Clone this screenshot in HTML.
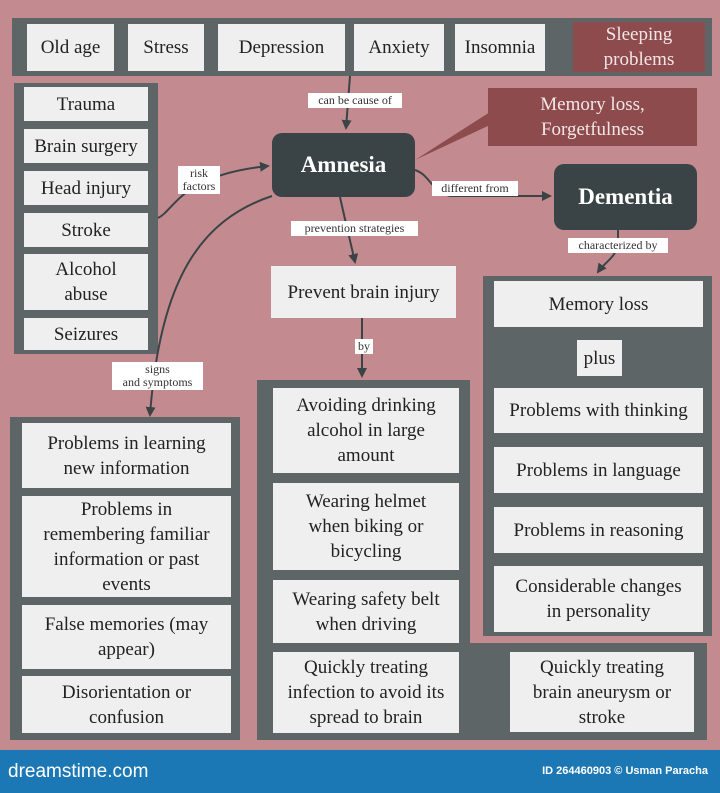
<!DOCTYPE html>
<html><head><meta charset="utf-8"><style>
*{margin:0;padding:0;box-sizing:border-box}
body{width:720px;height:793px;background:#c38b8f;position:relative;overflow:hidden;font-family:"Liberation Serif",serif;color:#222}
.p{position:absolute;background:#5e6567}
.b{position:absolute;background:#efefef;display:flex;align-items:center;justify-content:center;text-align:center;font-size:19px;line-height:25px}
.m{position:absolute;background:#8e4b4d;color:#f2e6e6;display:flex;align-items:center;justify-content:center;text-align:center;font-size:19px;line-height:25px}
.d{position:absolute;background:#3a4447;color:#fff;border-radius:10px;display:flex;align-items:center;justify-content:center;font-size:23px;font-weight:bold}
.l{position:absolute;background:#fff;font-size:12px;line-height:13px;text-align:center;color:#333;padding:1px 1px}
svg{position:absolute;left:0;top:0}
</style></head><body>
<div class="p" style="left:12px;top:18px;width:700px;height:58px"></div>
<div class="b" style="left:27px;top:24px;width:87px;height:47px">Old age</div>
<div class="b" style="left:128px;top:24px;width:76px;height:47px">Stress</div>
<div class="b" style="left:218px;top:24px;width:127px;height:47px">Depression</div>
<div class="b" style="left:354px;top:24px;width:90px;height:47px">Anxiety</div>
<div class="b" style="left:455px;top:24px;width:90px;height:47px">Insomnia</div>
<div class="m" style="left:573px;top:22px;width:132px;height:50px">Sleeping<br>problems</div>

<div class="p" style="left:14px;top:83px;width:144px;height:271px"></div>
<div class="b" style="left:24px;top:87px;width:124px;height:34px">Trauma</div>
<div class="b" style="left:24px;top:129px;width:124px;height:34px">Brain surgery</div>
<div class="b" style="left:24px;top:171px;width:124px;height:34px">Head injury</div>
<div class="b" style="left:24px;top:213px;width:124px;height:34px">Stroke</div>
<div class="b" style="left:24px;top:254px;width:124px;height:56px">Alcohol<br>abuse</div>
<div class="b" style="left:24px;top:318px;width:124px;height:32px">Seizures</div>

<svg width="720" height="793">
<defs><marker id="a" markerWidth="10" markerHeight="10" refX="8" refY="5" orient="auto" markerUnits="userSpaceOnUse"><path d="M0,0L10,5L0,10z" fill="#3a4447"/></marker></defs>
<g stroke="#3a4447" stroke-width="2" fill="none">
<path d="M350,76 L346,128" marker-end="url(#a)"/>
<path d="M158,218 C175,210 180,175 268,166" marker-end="url(#a)"/>
<path d="M415,170 C430,175 430,190 450,196 L550,196" marker-end="url(#a)"/>
<path d="M340,197 C345,220 350,240 355,262" marker-end="url(#a)"/>
<path d="M362,318 L362,376" marker-end="url(#a)"/>
<path d="M618,230 L618,245 C615,258 605,262 598,272" marker-end="url(#a)"/>
<path d="M272,196 C200,220 160,280 150,415" marker-end="url(#a)"/>
</g>
<path d="M415,160 L490,112 L490,125 Z" fill="#8e4b4d"/>
</svg>

<div class="d" style="left:272px;top:133px;width:143px;height:64px">Amnesia</div>
<div class="m" style="left:488px;top:88px;width:209px;height:58px">Memory loss,<br>Forgetfulness</div>
<div class="d" style="left:554px;top:164px;width:143px;height:66px">Dementia</div>

<div class="l" style="left:308px;top:93px;width:94px">can be cause of</div>
<div class="l" style="left:178px;top:166px;width:42px">risk<br>factors</div>
<div class="l" style="left:432px;top:181px;width:86px">different from</div>
<div class="l" style="left:291px;top:221px;width:127px">prevention strategies</div>
<div class="l" style="left:568px;top:238px;width:100px">characterized by</div>
<div class="l" style="left:112px;top:362px;width:91px">signs<br>and symptoms</div>

<div class="b" style="left:271px;top:266px;width:185px;height:52px">Prevent brain injury</div>
<div class="l" style="left:355px;top:339px;width:18px">by</div>

<div class="p" style="left:257px;top:380px;width:213px;height:360px"></div>
<div class="p" style="left:257px;top:643px;width:450px;height:97px"></div>
<div class="b" style="left:273px;top:388px;width:186px;height:85px">Avoiding drinking<br>alcohol in large<br>amount</div>
<div class="b" style="left:273px;top:483px;width:186px;height:87px">Wearing helmet<br>when biking or<br>bicycling</div>
<div class="b" style="left:273px;top:580px;width:186px;height:63px">Wearing safety belt<br>when driving</div>
<div class="b" style="left:273px;top:652px;width:186px;height:81px">Quickly treating<br>infection to avoid its<br>spread to brain</div>
<div class="b" style="left:510px;top:652px;width:184px;height:80px">Quickly treating<br>brain aneurysm or<br>stroke</div>

<div class="p" style="left:483px;top:276px;width:229px;height:360px"></div>
<div class="b" style="left:494px;top:281px;width:209px;height:46px">Memory loss</div>
<div class="b" style="left:577px;top:340px;width:45px;height:36px">plus</div>
<div class="b" style="left:494px;top:388px;width:209px;height:45px">Problems with thinking</div>
<div class="b" style="left:494px;top:447px;width:209px;height:46px">Problems in language</div>
<div class="b" style="left:494px;top:507px;width:209px;height:46px">Problems in reasoning</div>
<div class="b" style="left:494px;top:566px;width:209px;height:66px">Considerable changes<br>in personality</div>

<div class="p" style="left:10px;top:417px;width:230px;height:323px"></div>
<div class="b" style="left:22px;top:423px;width:209px;height:65px">Problems in learning<br>new information</div>
<div class="b" style="left:22px;top:496px;width:209px;height:101px">Problems in<br>remembering familiar<br>information or past<br>events</div>
<div class="b" style="left:22px;top:605px;width:209px;height:64px">False memories (may<br>appear)</div>
<div class="b" style="left:22px;top:676px;width:209px;height:57px">Disorientation or<br>confusion</div>

<div style="position:absolute;left:0;top:750px;width:720px;height:43px;background:#1c78b4;color:#fff;font-family:'Liberation Sans',sans-serif">
<div style="position:absolute;left:8px;top:11px;font-size:19px">dreamstime.com</div>
<div style="position:absolute;right:12px;top:15px;font-size:11px;font-weight:bold">ID 264460903 © Usman Paracha</div>
</div>
</body></html>
